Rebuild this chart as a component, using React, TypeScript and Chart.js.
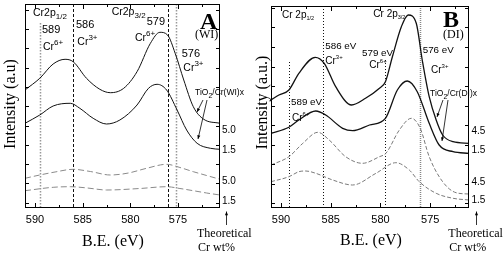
import React, { useEffect, useRef } from 'react';
import { Chart, registerables } from 'chart.js';
Chart.register(...registerables);

const SANS = '"Liberation Sans", Arial, Helvetica, sans-serif';
const SERIF = '"Liberation Serif", "Times New Roman", Times, serif';

// ---------------- Panel A : TiO2/Cr(WI)x ----------------
// binding energies (eV) and intensities (a.u.)
const aE50 = [591.05, 589.5, 588.1, 586.85, 586, 584.6, 583.2, 582.1, 580.7, 579.3, 577.9, 576.9, 576.1, 575.3, 574.4, 573.4, 572.3, 570.6];
const aI50 = [118, 129.7, 144, 148.7, 146.3, 129.7, 118.7, 115.3, 119.7, 136.3, 164.7, 175.7, 173, 154.7, 128, 101.3, 88.7, 84.7];
const aE15 = [591.05, 589.5, 588.1, 586.3, 585.3, 583.9, 582.5, 581.1, 579.3, 578.1, 577.2, 576.2, 575.1, 574.1, 573.0, 571.6, 570.6];
const aI15 = [84.7, 93, 102, 104.7, 99.7, 89.7, 84, 88, 103, 119.7, 123.7, 118, 98, 78, 64.7, 59.7, 58.7];
const aTE50 = [591.05, 589.5, 587.9, 586, 584.2, 582.1, 580.2, 578.3, 576.2, 574.8, 573.4, 572, 570.6];
const aTI50 = [29.7, 33, 36, 38.7, 36.5, 33, 35, 39.7, 43.7, 40.5, 36.3, 32.5, 28.7];
const aTE15 = [591.05, 588.1, 586.3, 584.5, 582.5, 579, 576.2, 574.8, 573.4, 572, 570.6];
const aTI15 = [17.3, 20.7, 21.3, 20, 18, 19.5, 21.3, 19.5, 17.3, 15, 13];

// ---------------- Panel B : TiO2/Cr(DI)x ----------------
const bE45 = [591, 590.2, 589.2, 588.2, 586.55, 585.65, 584.5, 582.9, 581.5, 580.1, 579.5, 578.8, 577.9, 577.2, 576.4, 575.8, 575.1, 574.4, 573.75, 572.7, 571.1];
const bI45 = [108, 113, 118, 134.7, 150.7, 144.7, 121.3, 103, 109.7, 119.7, 126.3, 151.3, 181.3, 193, 184.7, 148, 111.3, 88, 73, 66.3, 64.7];
const bE15 = [591, 589.2, 588.2, 586.5, 585.5, 583.8, 582.8, 581.1, 579.5, 578.3, 577.3, 576.3, 575.1, 574.1, 572.7, 571.1];
const bI15 = [74.7, 80.7, 88, 97, 93, 79.7, 77.3, 83, 89.7, 118, 127, 116.3, 84.7, 63, 56.3, 54.7];
const bTE45 = [591, 589.2, 587.8, 586.3, 585.15, 583.5, 581.8, 580.1, 579.45, 578.1, 576.9, 576.0, 575.1, 573.75, 572.4, 571.1];
const bTI45 = [43, 51.3, 64.7, 75.7, 68, 51.3, 44.7, 51.3, 54.7, 78, 89.7, 79.7, 51.3, 26.3, 15.3, 14];
const bTE15 = [591, 589.2, 588.2, 587.5, 586.5, 584.8, 582.8, 580.45, 578.45, 577.1, 576.1, 574.4, 572.7, 571.1];
const bTI15 = [26.3, 31.3, 36.3, 37, 34.7, 28, 23, 34.7, 45.3, 38, 26.3, 14.7, 9.7, 8];

// axis ticks
const xTicks = [590, 587.5, 585, 582.5, 580, 577.5, 575, 572.5];
const xMajor = [590, 585, 580, 575];

// theoretical Cr wt% labels at right side
const wtA = ['5.0', '1.5', '5.0', '1.5'];
const wtPosA = [78, 58, 26.3, 6.3];
const wtB = ['4.5', '1.5', '4.5', '1.5'];
const wtPosB = [77, 58, 25.3, 7.3];

// reference binding energies
const refA = [589.5, 586, 576.1, 575.2];
const refATop = [185, 204, 204, 204];
const refB = [589.2, 585.8, 579.5, 576.0];
const refBTop = [146, 202, 148, 202];

type Part = { t: string; s: number; dy?: number; b?: boolean };
type Lbl = { x: number; y: number; parts: Part[]; fam?: string };

const cr = (sup: string, s = 10.5, ss = 8, dy = -5): Part[] => [{ t: 'Cr', s }, { t: sup, s: ss, dy }];

const toXY = (e: number[], v: number[]) => e.map((x, i) => ({ x, y: v[i] }));

function drawRich(ctx: CanvasRenderingContext2D, x: number, y: number, parts: Part[], fam: string) {
  let cx = x;
  for (const p of parts) {
    ctx.font = `${p.b ? 'bold ' : ''}${p.s}px ${fam}`;
    ctx.fillText(p.t, cx, y + (p.dy || 0));
    cx += ctx.measureText(p.t).width;
  }
}

function drawArrow(ctx: CanvasRenderingContext2D, x1: number, y1: number, x2: number, y2: number, h = 4) {
  ctx.beginPath();
  ctx.moveTo(x1, y1);
  ctx.lineTo(x2, y2);
  ctx.stroke();
  const a = Math.atan2(y2 - y1, x2 - x1);
  ctx.beginPath();
  ctx.moveTo(x2, y2);
  ctx.lineTo(x2 - h * Math.cos(a - 0.4), y2 - h * Math.sin(a - 0.4));
  ctx.lineTo(x2 - h * Math.cos(a + 0.4), y2 - h * Math.sin(a + 0.4));
  ctx.closePath();
  ctx.fill();
}

interface Panel {
  off: number;
  xMin: number;
  xMax: number;
  yMax: number;
  pad: { left: number; right: number; top: number; bottom: number };
  datasets: any[];
  refs: number[];
  refTops: number[];
  refStyles: { color: string; dash: number[]; w: number }[];
  labels: Lbl[];
  wt: string[];
  wtPos: number[];
  wtX: number;
  arrows: number[][];
  yTitle: string;
  yTitleX: number;
  yTitleY: number;
  xTitleX: number;
  xTitleY: number;
  theoX: number;
  arrowX: number;
  yStep: number;
  y0: number;
}

const solid = (d: any, w = 1) => ({ data: d, borderColor: '#111', borderWidth: w, pointRadius: 0, cubicInterpolationMode: 'monotone', fill: false });
const dashed = (d: any, dash: number[], c = '#8a8a8a') => ({ data: d, borderColor: c, borderWidth: 1, borderDash: dash, pointRadius: 0, cubicInterpolationMode: 'monotone', fill: false });

const panelA: Panel = {
  off: 0,
  xMin: 570.6,
  xMax: 591.05,
  yMax: 204,
  pad: { left: 25, right: 32, top: 4, bottom: 23.8 },
  datasets: [
    solid(toXY(aE50, aI50)),
    solid(toXY(aE15, aI15)),
    dashed(toXY(aTE50, aTI50), [6, 3]),
    dashed(toXY(aTE15, aTI15), [6, 3]),
  ],
  refs: refA,
  refTops: refATop,
  refStyles: [
    { color: '#999', dash: [1.5, 1.5], w: 1.5 },
    { color: '#111', dash: [3, 2], w: 1 },
    { color: '#111', dash: [3, 2], w: 1 },
    { color: '#999', dash: [1.5, 1.5], w: 1.5 },
  ],
  labels: [
    { x: 33, y: 15.5, parts: [{ t: 'Cr2p', s: 10.5 }, { t: '1/2', s: 8, dy: 3 }] },
    { x: 42, y: 33, parts: [{ t: '589', s: 11 }] },
    { x: 43, y: 50, parts: cr('6+') },
    { x: 76, y: 28.3, parts: [{ t: '586', s: 11 }] },
    { x: 77.3, y: 45, parts: cr('3+') },
    { x: 111.7, y: 15, parts: [{ t: 'Cr2p', s: 10.5 }, { t: '3/2', s: 8, dy: 3 }] },
    { x: 146.7, y: 25, parts: [{ t: '579', s: 11 }] },
    { x: 135, y: 40.7, parts: cr('6+') },
    { x: 181.7, y: 56.7, parts: [{ t: '576', s: 11 }] },
    { x: 183.3, y: 70.7, parts: cr('3+') },
    { x: 200, y: 28.5, parts: [{ t: 'A', s: 24, b: true }], fam: SERIF },
    { x: 195, y: 37.5, parts: [{ t: '(WI)', s: 12 }], fam: SERIF },
    { x: 195, y: 94.5, parts: [{ t: 'TiO', s: 8.5 }, { t: '2', s: 7, dy: 3 }, { t: '/Cr(WI)x', s: 8.5 }] },
  ],
  wt: wtA,
  wtPos: wtPosA,
  wtX: 222,
  arrows: [[203, 100, 197, 112], [207, 100, 198, 139]],
  yTitle: 'Intensity (a.u)',
  yTitleX: 14.5,
  yTitleY: 104,
  xTitleX: 113,
  xTitleY: 246,
  theoX: 197,
  arrowX: 226.5,
  yStep: 19.3,
  y0: 5.3,
};

const panelB: Panel = {
  off: 252,
  xMin: 571.1,
  xMax: 591.0,
  yMax: 202,
  pad: { left: 19, right: 35, top: 6, bottom: 23.8 },
  datasets: [
    solid(toXY(bE45, bI45), 1.3),
    solid(toXY(bE15, bI15), 1.3),
    dashed(toXY(bTE45, bTI45), [4, 2], '#7a7a7a'),
    dashed(toXY(bTE15, bTI15), [4, 2], '#7a7a7a'),
  ],
  refs: refB,
  refTops: refBTop,
  refStyles: [
    { color: '#111', dash: [1, 2], w: 1 },
    { color: '#111', dash: [1, 2], w: 1 },
    { color: '#111', dash: [1, 2], w: 1 },
    { color: '#888', dash: [1, 1], w: 1.5 },
  ],
  labels: [
    { x: 282, y: 18, parts: [{ t: 'Cr 2p', s: 10 }, { t: '1/2', s: 5.5, dy: 2 }] },
    { x: 325.3, y: 49, parts: [{ t: '586 eV', s: 9.8 }] },
    { x: 325.3, y: 64, parts: cr('3+', 10, 6, -5) },
    { x: 362, y: 56, parts: [{ t: '579 eV', s: 9.8 }] },
    { x: 369.3, y: 67.7, parts: cr('6+', 10, 6, -5) },
    { x: 422.7, y: 52.7, parts: [{ t: '576 eV', s: 9.8 }] },
    { x: 431, y: 72.7, parts: cr('3+', 10, 6, -5) },
    { x: 373.3, y: 17.3, parts: [{ t: 'Cr 2p', s: 10 }, { t: '3/2', s: 5.5, dy: 2 }] },
    { x: 291, y: 105, parts: [{ t: '589 eV', s: 9.8 }] },
    { x: 292, y: 120.7, parts: cr('6+', 10, 6, -5) },
    { x: 443, y: 27.3, parts: [{ t: 'B', s: 24, b: true }], fam: SERIF },
    { x: 443, y: 37.5, parts: [{ t: '(DI)', s: 12 }], fam: SERIF },
    { x: 430, y: 95.5, parts: [{ t: 'TiO', s: 8.5 }, { t: '2', s: 7, dy: 3 }, { t: '/Cr(DI)x', s: 8.5 }] },
  ],
  wt: wtB,
  wtPos: wtPosB,
  wtX: 471.5,
  arrows: [[443, 100, 437, 117], [448, 100, 442, 141]],
  yTitle: 'Intensity (a.u.)',
  yTitleX: 266.5,
  yTitleY: 102.5,
  xTitleX: 371,
  xTitleY: 245,
  theoX: 448.3,
  arrowX: 476.5,
  yStep: 19.5,
  y0: 5,
};

function makePlugin(p: Panel) {
  return {
    id: 'deco',
    beforeDatasetsDraw(chart: any) {
      const { ctx, chartArea: ca, scales } = chart;
      const x = scales.x, y = scales.y;
      ctx.save();
      p.refs.forEach((e, i) => {
        const st = p.refStyles[i];
        const px = Math.round(x.getPixelForValue(e)) + 0.5;
        ctx.strokeStyle = st.color;
        ctx.lineWidth = st.w;
        ctx.setLineDash(st.dash);
        ctx.beginPath();
        ctx.moveTo(px, y.getPixelForValue(p.refTops[i]));
        ctx.lineTo(px, ca.bottom);
        ctx.stroke();
      });
      ctx.restore();
    },
    afterDatasetsDraw(chart: any) {
      const { ctx, chartArea: ca, scales } = chart;
      const x = scales.x, y = scales.y;
      const o = p.off;
      ctx.save();
      ctx.setLineDash([]);
      ctx.strokeStyle = '#000';
      ctx.fillStyle = '#000';
      ctx.lineWidth = 1;
      // frame
      ctx.strokeRect(ca.left + 0.5, ca.top + 0.5, ca.right - ca.left - 1, ca.bottom - ca.top - 1);
      // inward ticks
      ctx.beginPath();
      x.ticks.forEach((t: any) => {
        const px = Math.round(x.getPixelForValue(t.value)) + 0.5;
        const len = xMajor.includes(t.value) ? 5 : 3;
        ctx.moveTo(px, ca.bottom);
        ctx.lineTo(px, ca.bottom - len);
        ctx.moveTo(px, ca.top);
        ctx.lineTo(px, ca.top + len);
      });
      for (let v = p.y0; v < p.yMax; v += p.yStep) {
        const py = Math.round(y.getPixelForValue(v)) + 0.5;
        ctx.moveTo(ca.left, py);
        ctx.lineTo(ca.left + 4, py);
        ctx.moveTo(ca.right, py);
        ctx.lineTo(ca.right - 4, py);
      }
      ctx.stroke();
      // annotations
      ctx.textBaseline = 'alphabetic';
      ctx.textAlign = 'left';
      p.labels.forEach((l) => drawRich(ctx, l.x - o, l.y, l.parts, l.fam || SANS));
      ctx.lineWidth = 0.8;
      p.arrows.forEach((a) => drawArrow(ctx, a[0] - o, a[1], a[2] - o, a[3], 4));
      // wt% labels
      ctx.font = `10px ${SANS}`;
      ctx.textBaseline = 'middle';
      p.wt.forEach((t, i) => ctx.fillText(t, p.wtX - o, y.getPixelForValue(p.wtPos[i])));
      // axis titles
      ctx.textBaseline = 'alphabetic';
      ctx.font = `16px ${SERIF}`;
      ctx.textAlign = 'center';
      ctx.fillText('B.E. (eV)', p.xTitleX - o, p.xTitleY);
      ctx.save();
      ctx.translate(p.yTitleX - o, p.yTitleY);
      ctx.rotate(-Math.PI / 2);
      ctx.fillText(p.yTitle, 0, 0);
      ctx.restore();
      ctx.textAlign = 'left';
      ctx.font = `12px ${SERIF}`;
      ctx.fillText('Theoretical', p.theoX - o, 236.5);
      ctx.fillText('Cr wt%', p.theoX + 1 - o, 250.5);
      ctx.lineWidth = 0.8;
      drawArrow(ctx, p.arrowX - o, 225, p.arrowX - o, 211.5, 4);
      ctx.restore();
    },
  };
}

function PanelChart({ p }: { p: Panel }) {
  const ref = useRef<HTMLCanvasElement>(null);
  useEffect(() => {
    if (!ref.current) return;
    const chart = new Chart(ref.current, {
      type: 'line',
      data: { datasets: p.datasets },
      options: {
        animation: false,
        responsive: false,
        events: [],
        layout: { padding: p.pad },
        plugins: { legend: { display: false }, tooltip: { enabled: false } },
        scales: {
          x: {
            type: 'linear',
            reverse: true,
            min: p.xMin,
            max: p.xMax,
            afterBuildTicks: (s: any) => {
              s.ticks = xTicks.map((v) => ({ value: v }));
            },
            ticks: {
              autoSkip: false,
              maxRotation: 0,
              padding: 5,
              color: '#000',
              font: { family: SANS, size: 11 },
              callback: (v: any) => (xMajor.includes(Number(v)) ? String(v) : ''),
            },
            grid: { display: false, drawTicks: false },
            border: { display: false },
          },
          y: { type: 'linear', display: false, min: 0, max: p.yMax },
        },
      } as any,
      plugins: [makePlugin(p) as any],
    });
    return () => chart.destroy();
  }, [p]);
  return (
    <canvas
      ref={ref}
      width={252}
      height={255}
      style={{ position: 'absolute', left: p.off, top: 0, width: 252, height: 255 }}
    />
  );
}

export default function App() {
  return (
    <div style={{ position: 'absolute', left: 0, top: 0, width: 504, height: 255, background: '#fff' }}>
      <PanelChart p={panelA} />
      <PanelChart p={panelB} />
    </div>
  );
}
